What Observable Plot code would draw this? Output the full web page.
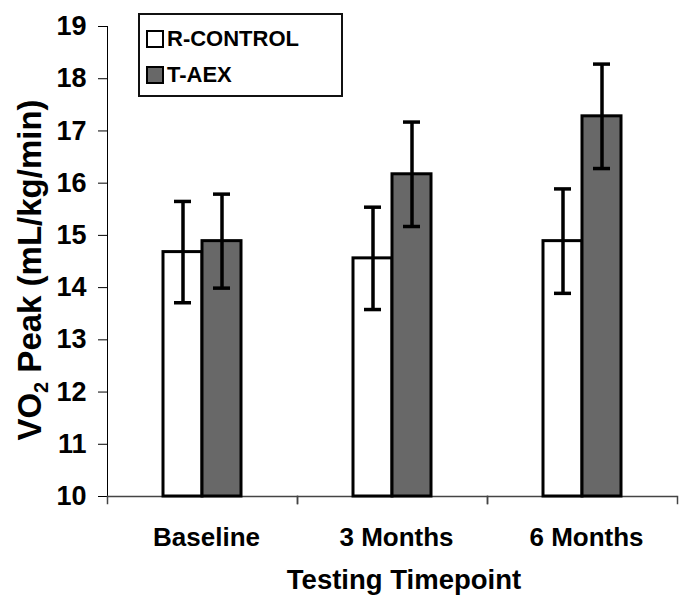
<!DOCTYPE html>
<html><head><meta charset="utf-8">
<script src="https://cdn.jsdelivr.net/npm/d3@7"></script>
<script src="https://cdn.jsdelivr.net/npm/@observablehq/plot@0.6"></script>
<style>
body{margin:0;background:#fff;font-family:"Liberation Sans",Arial,sans-serif;}
#wrap{position:relative;width:693px;height:600px;}
#legend{position:absolute;left:138px;top:13px;width:201px;height:80px;border:2px solid #111;background:#fff;}
.item{position:absolute;left:6px;display:flex;align-items:center;font-weight:bold;font-size:22px;line-height:1;color:#000;}
.sw{width:14px;height:14px;border:2.5px solid #000;margin-right:3px;}
</style></head><body>
<div id="wrap"><div id="legend"></div></div>
<script>
const timepoints = ["Baseline", "3 Months", "6 Months"];
const groups = ["R-CONTROL", "T-AEX"];
const controlMean = [14.68, 14.56, 14.89];
const controlErr = [0.97, 0.98, 1.0];
const aexMean = [14.89, 16.17, 17.28];
const aexErr = [0.9, 1.0, 1.0];
const yTicks = [10, 11, 12, 13, 14, 15, 16, 17, 18, 19];
const colors = ["#ffffff", "#686868"];

const data = timepoints.flatMap((t, i) => [
  {time: t, group: groups[0], mean: controlMean[i], err: controlErr[i]},
  {time: t, group: groups[1], mean: aexMean[i], err: aexErr[i]}
]);

const W = 693, H = 600, mL = 106, mR = 16, mT = 26, mB = 104;
const axisColor = "#444";

const chart = Plot.plot({
  width: W, height: H,
  marginLeft: mL, marginRight: mR, marginTop: mT, marginBottom: mB,
  style: {fontFamily: "'Liberation Sans', Arial, sans-serif", fontWeight: "bold", fontSize: "27px", color: "#000", background: "#fff"},
  fx: {domain: timepoints, padding: 0, axis: null},
  x: {domain: groups, paddingInner: 0, paddingOuter: 1.43, axis: null},
  y: {domain: [10, 19], ticks: yTicks, tickSize: 9, tickPadding: 12, line: true, label: null},
  color: {domain: groups, range: colors},
  marks: [
    Plot.frame({anchor: "left", insetTop: H - mT - mB, insetBottom: -7, stroke: axisColor, strokeWidth: 1.5}),
    Plot.frame({anchor: "right", insetTop: H - mT - mB, insetBottom: -7, stroke: axisColor, strokeWidth: 1.5}),
    Plot.ruleY([10], {stroke: axisColor, strokeWidth: 1.5}),
    Plot.barY(data, {fx: "time", x: "group", y1: 10, y2: "mean", fill: "group", stroke: "#000", strokeWidth: 3}),
    Plot.ruleX(data, {fx: "time", x: "group", y1: d => d.mean - d.err, y2: d => d.mean + d.err, stroke: "#000", strokeWidth: 3.5}),
    Plot.tickY(data, {fx: "time", x: "group", y: d => d.mean - d.err, insetLeft: 11, insetRight: 11, stroke: "#000", strokeWidth: 3.5}),
    Plot.tickY(data, {fx: "time", x: "group", y: d => d.mean + d.err, insetLeft: 11, insetRight: 11, stroke: "#000", strokeWidth: 3.5}),
    Plot.axisFx({anchor: "bottom", tickSize: 0, tickPadding: 31, fontSize: 26, label: null, dx: 4})
  ]
});

const svg = d3.select(chart);
const yt = svg.append("text")
  .attr("transform", "translate(41,270) rotate(-90)")
  .attr("text-anchor", "middle")
  .attr("font-size", 33).attr("font-weight", "bold").attr("fill", "#000");
yt.append("tspan").text("VO");
yt.append("tspan").attr("font-size", 20).attr("dy", 7).text("2");
yt.append("tspan").attr("dy", -7).text(" Peak (mL/kg/min)");

svg.append("text")
  .attr("x", 404).attr("y", 589)
  .attr("text-anchor", "middle")
  .attr("font-size", 27.5).attr("font-weight", "bold").attr("fill", "#000")
  .text("Testing Timepoint");

document.getElementById("wrap").prepend(chart);
chart.style.position = "absolute";
chart.style.left = "0"; chart.style.top = "0";

const legend = document.getElementById("legend");
groups.forEach((g, i) => {
  const item = document.createElement("div");
  item.className = "item";
  item.style.top = (i === 0 ? 13 : 49) + "px";
  const sw = document.createElement("div");
  sw.className = "sw";
  sw.style.background = colors[i];
  const lab = document.createElement("span");
  lab.textContent = g;
  item.append(sw, lab);
  legend.append(item);
});
</script></body></html>
